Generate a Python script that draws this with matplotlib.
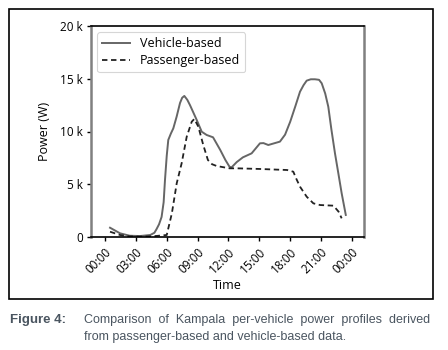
import matplotlib.pyplot as plt
import numpy as np
from matplotlib.patches import Rectangle

# data (hours, W)
veh_h = [0.49, 1.0, 1.46, 2.4, 3.4, 4.4, 4.8, 5.0, 5.25, 5.5, 5.7, 5.83, 6.0, 6.15,
         6.4, 6.64, 6.96, 7.29, 7.5, 7.71, 8.0, 8.26, 8.91, 9.4, 9.88, 10.5, 11.2,
         11.7, 12.1, 12.3, 12.8, 13.4, 14.25, 15.06, 15.4, 15.87, 17.0, 17.5, 18.0,
         18.5, 18.95, 19.3, 19.6, 20.0, 20.4, 20.8, 21.06, 21.4, 21.7, 22.0, 22.35,
         22.7, 23.0, 23.4]
veh_w = [880, 600, 350, 120, 90, 190, 400, 730, 1200, 1900, 3300, 5400, 7700, 9200,
         9800, 10300, 11400, 12700, 13200, 13370, 13000, 12500, 11100, 9980, 9670,
         9450, 8250, 7300, 6660, 6600, 7100, 7550, 7930, 8880, 8900, 8720, 9040,
         9700, 10930, 12400, 13770, 14400, 14820, 14950, 14950, 14900, 14570, 13600,
         12350, 10200, 7930, 5900, 4140, 2090]

pas_h = [0.49, 1.46, 2.4, 3.4, 4.4, 5.0, 6.0, 6.5, 6.97, 7.45, 7.94, 8.43, 8.68,
         9.07, 9.55, 10.0, 10.4, 10.85, 12.1, 12.8, 15.0, 17.7, 18.3, 18.6, 18.95,
         19.6, 20.25, 20.9, 22.2, 22.7, 23.0]
pas_w = [500, 190, 60, 40, 60, 100, 190, 2250, 5090, 6990, 9500, 10930, 11190,
         10460, 8720, 7300, 6900, 6730, 6510, 6510, 6450, 6350, 6190, 5500, 4770,
         3820, 3190, 3030, 2970, 2400, 1770]

xticks = [0, 3, 6, 9, 12, 15, 18, 21, 24]
xlabels = ['00:00', '03:00', '06:00', '09:00', '12:00', '15:00', '18:00', '21:00', '00:00']
yticks = [0, 5000, 10000, 15000, 20000]
ylabels = ['0', '5 k', '10 k', '15 k', '20 k']

plt.rcParams['font.family'] = ['Open Sans', 'DejaVu Sans']

fig = plt.figure(figsize=(4.48, 3.5), dpi=100)
ax = fig.add_axes([91/448, 1-237/350, (364-91)/448, (237-26)/350])

ax.plot(veh_h, veh_w, color='#666666', lw=1.4, label='Vehicle-based')
ax.plot(pas_h, pas_w, color='#222222', lw=1.3, ls=(0, (3, 2)), label='Passenger-based')

ax.set_xlim(-1.36, 25.17)
ax.set_ylim(0, 20000)
ax.set_xticks(xticks)
ax.set_xticklabels(xlabels, rotation=45, ha='right', rotation_mode='anchor', fontsize=8.5)
ax.set_yticks(yticks)
ax.set_yticklabels(ylabels, fontsize=8.5)
ax.tick_params(length=3, width=1, color='black', pad=3)
ax.set_xlabel('Time', fontsize=9, labelpad=2)
ax.set_ylabel('Power (W)', fontsize=9, labelpad=6)

for s in ['left', 'right']:
    ax.spines[s].set_color('#808080')
    ax.spines[s].set_linewidth(1.8)
for s in ['top', 'bottom']:
    ax.spines[s].set_color('black')
    ax.spines[s].set_linewidth(1.2)

leg = ax.legend(loc='upper left', fontsize=9, frameon=True, fancybox=True,
                handlelength=2.2, borderaxespad=0.5, borderpad=0.4, labelspacing=0.3)
leg.get_frame().set_edgecolor('#cccccc')
leg.get_frame().set_linewidth(0.8)

# outer border
fig.patches.append(Rectangle((9/448, 1-299/350), (433-9)/448, (299-9)/350,
                             transform=fig.transFigure, fill=False,
                             edgecolor='black', lw=1.2))

cap = '#4a5560'
capfont = ['Liberation Sans Narrow', 'Liberation Sans', 'DejaVu Sans']
fig.text(10/448, 1-320/350, 'Figure 4:', fontsize=9.5, fontweight='bold',
         color=cap, family=capfont, va='center')
fig.text(84/448, 1-320/350, 'Comparison  of  Kampala  per-vehicle  power  profiles  derived',
         fontsize=9, color=cap, family=capfont, va='center')
fig.text(84/448, 1-337/350, 'from passenger-based and vehicle-based data.',
         fontsize=9, color=cap, family=capfont, va='center')

fig.savefig('out.png', dpi=100)
